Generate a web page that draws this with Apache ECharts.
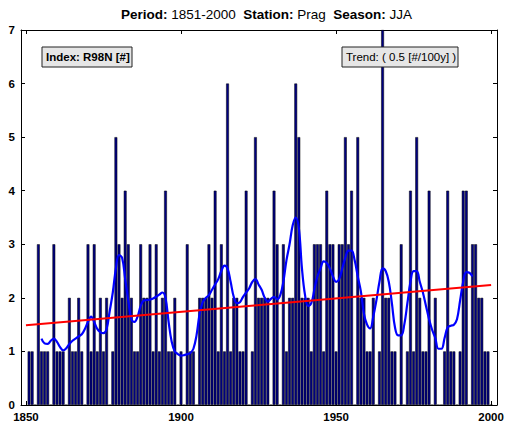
<!DOCTYPE html>
<html><head><meta charset="utf-8">
<script src="https://cdn.jsdelivr.net/npm/echarts@6/dist/echarts.min.js"></script>
<style>html,body{margin:0;padding:0;background:#fff}#c{width:508px;height:426px}</style>
</head><body><div id="c"></div><script>
const years = [
1851,1852,1853,1854,1855,1856,1857,1858,1859,1860,
1861,1862,1863,1864,1865,1866,1867,1868,1869,1870,
1871,1872,1873,1874,1875,1876,1877,1878,1879,1880,
1881,1882,1883,1884,1885,1886,1887,1888,1889,1890,
1891,1892,1893,1894,1895,1896,1897,1898,1899,1900,
1901,1902,1903,1904,1905,1906,1907,1908,1909,1910,
1911,1912,1913,1914,1915,1916,1917,1918,1919,1920,
1921,1922,1923,1924,1925,1926,1927,1928,1929,1930,
1931,1932,1933,1934,1935,1936,1937,1938,1939,1940,
1941,1942,1943,1944,1945,1946,1947,1948,1949,1950,
1951,1952,1953,1954,1955,1956,1957,1958,1959,1960,
1961,1962,1963,1964,1965,1966,1967,1968,1969,1970,
1971,1972,1973,1974,1975,1976,1977,1978,1979,1980,
1981,1982,1983,1984,1985,1986,1987,1988,1989,1990,
1991,1992,1993,1994,1995,1996,1997,1998,1999,2000];
const counts = [
1,1,0,3,1,1,1,0,3,1,
1,1,0,2,1,1,2,1,0,3,
1,3,1,2,1,2,0,1,5,3,
2,4,3,2,1,1,3,2,2,3,
1,3,1,2,4,1,1,2,0,1,
0,3,1,1,0,2,2,2,3,2,
4,1,3,1,6,1,2,2,1,1,
4,0,1,5,2,2,2,2,0,4,
3,0,3,1,2,2,6,5,2,2,
2,1,3,3,3,1,4,3,3,1,
3,3,5,3,4,0,5,2,2,1,
1,2,0,1,7,2,2,1,1,0,
3,0,1,4,1,5,2,1,1,4,
0,2,0,0,1,4,1,1,0,1,
4,4,0,3,3,2,2,1,1,0];
const smoothYears = [
1855,1856,1857,1858,1859,1860,1861,1862,1863,1864,
1865,1866,1867,1868,1869,1870,1871,1872,1873,1874,
1875,1876,1877,1878,1879,1880,1881,1882,1883,1884,
1885,1886,1887,1888,1889,1890,1891,1892,1893,1894,
1895,1896,1897,1898,1899,1900,1901,1902,1903,1904,
1905,1906,1907,1908,1909,1910,1911,1912,1913,1914,
1915,1916,1917,1918,1919,1920,1921,1922,1923,1924,
1925,1926,1927,1928,1929,1930,1931,1932,1933,1934,
1935,1936,1937,1938,1939,1940,1941,1942,1943,1944,
1945,1946,1947,1948,1949,1950,1951,1952,1953,1954,
1955,1956,1957,1958,1959,1960,1961,1962,1963,1964,
1965,1966,1967,1968,1969,1970,1971,1972,1973,1974,
1975,1976,1977,1978,1979,1980,1981,1982,1983,1984,
1985,1986,1987,1988,1989,1990,1991,1992,1993,1994];
const smoothValues = [
1.24,1.15,1.14,1.2,1.24,1.18,1.08,1.02,1.06,1.14,
1.2,1.24,1.28,1.32,1.42,1.55,1.65,1.55,1.42,1.36,
1.34,1.42,1.75,2.1,2.55,2.8,2.75,2.35,1.95,1.6,
1.55,1.65,1.85,1.95,1.96,1.97,1.99,2.02,2.06,2.1,
2.0,1.55,1.18,1.0,0.95,0.92,0.93,0.95,0.97,1.05,
1.3,1.7,1.92,2.0,2.05,2.15,2.25,2.35,2.5,2.6,
2.55,2.3,2.02,1.9,1.92,2.02,2.1,2.18,2.3,2.35,
2.25,2.15,2.0,1.93,1.98,2.02,1.97,2.05,2.3,2.7,
3.0,3.35,3.5,3.3,2.55,2.05,1.85,1.9,2.15,2.4,
2.55,2.68,2.65,2.55,2.4,2.3,2.35,2.55,2.75,2.88,
2.88,2.7,2.4,2.12,1.7,1.5,1.43,1.65,1.95,2.3,
2.55,2.5,2.3,1.9,1.45,1.3,1.3,1.5,1.9,2.3,
2.5,2.5,2.3,2.1,1.85,1.6,1.4,1.25,1.05,1.05,
1.25,1.45,1.48,1.5,1.6,1.95,2.3,2.48,2.47,2.4];
const trendYears = [1850, 2000];
const trendValues = [1.49, 2.24];
const xTickValues = [1850, 1900, 1950, 2000];
const titleParts = ['Period:', '1851-2000', 'Station:', 'Prag', 'Season:', 'JJA'];
const indexLabel = 'Index: R98N [#]';
const trendLabel = 'Trend: ( 0.5 [#/100y] )';

const FONT = "'Liberation Sans', Arial, Helvetica, sans-serif";
const chart = echarts.init(document.getElementById('c'), null, {renderer: 'svg'});
const axisLineStyle = {show: true, onZero: false, lineStyle: {color: '#000', width: 1}};
const xCommon = {type: 'value', min: 1848.4, max: 2001.9, splitLine: {show: false}, axisLine: axisLineStyle};
const yCommon = {type: 'value', min: 0, max: 7, interval: 1, splitLine: {show: false}, axisLine: axisLineStyle};
chart.setOption({
  animation: false,
  backgroundColor: '#fff',
  title: {
    text: '{b|' + titleParts[0] + '} ' + titleParts[1] + '  {b|' + titleParts[2] + '} ' + titleParts[3] + '  {b|' + titleParts[4] + '} ' + titleParts[5],
    left: 121, top: 7, padding: 0,
    textStyle: {fontSize: 13.5, fontWeight: 'normal', color: '#000', fontFamily: FONT,
      rich: {b: {fontSize: 13.5, fontWeight: 'bold', color: '#000', fontFamily: FONT}}}
  },
  grid: {left: 21, right: 11, top: 30, bottom: 21},
  xAxis: [
    Object.assign({}, xCommon, {position: 'bottom',
      axisTick: {show: true, inside: true, length: 4, customValues: xTickValues, lineStyle: {color: '#000'}},
      axisLabel: {customValues: xTickValues, formatter: v => String(v), fontWeight: 'bold', fontSize: 11.5, color: '#000', fontFamily: FONT, margin: 6}}),
    Object.assign({}, xCommon, {position: 'top',
      axisTick: {show: true, inside: true, length: 4, customValues: xTickValues, lineStyle: {color: '#000'}},
      axisLabel: {show: false}})
  ],
  yAxis: [
    Object.assign({}, yCommon, {position: 'left',
      axisTick: {show: true, inside: true, length: 4, lineStyle: {color: '#000'}},
      axisLabel: {fontWeight: 'bold', fontSize: 11.5, color: '#000', fontFamily: FONT, margin: 6}}),
    Object.assign({}, yCommon, {position: 'right',
      axisTick: {show: true, inside: true, length: 4, lineStyle: {color: '#000'}},
      axisLabel: {show: false}})
  ],
  series: [
    {type: 'bar', xAxisIndex: 0, yAxisIndex: 0, barWidth: 2.8, silent: true,
      data: years.map((y, i) => [y, counts[i]]),
      itemStyle: {color: '#000080', borderColor: '#000', borderWidth: 0.5}},
    {type: 'line', xAxisIndex: 0, yAxisIndex: 0, showSymbol: false, smooth: 0.4, silent: true,
      data: smoothYears.map((y, i) => [y, smoothValues[i]]),
      lineStyle: {color: '#0000ff', width: 2.2}},
    {type: 'line', xAxisIndex: 0, yAxisIndex: 0, showSymbol: false, silent: true,
      data: trendYears.map((y, i) => [y, trendValues[i]]),
      lineStyle: {color: '#ff0000', width: 2}}
  ],
  graphic: [
    {type: 'rect', shape: {x: 42, y: 47, width: 90, height: 20}, style: {fill: '#e6e6e6', stroke: '#222', lineWidth: 1}, z: 100},
    {type: 'text', x: 46, y: 57, style: {text: indexLabel, font: 'bold 11.5px ' + FONT, fill: '#000', verticalAlign: 'middle'}, z: 101},
    {type: 'rect', shape: {x: 342, y: 47, width: 116, height: 20}, style: {fill: '#e6e6e6', stroke: '#222', lineWidth: 1}, z: 100},
    {type: 'text', x: 346, y: 57, style: {text: trendLabel, font: '11.5px ' + FONT, fill: '#000', verticalAlign: 'middle'}, z: 101}
  ]
});
</script></body></html>
